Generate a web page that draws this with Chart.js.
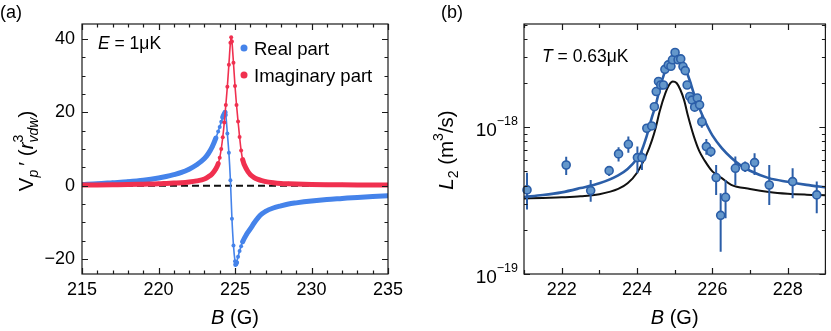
<!DOCTYPE html>
<html>
<head>
<meta charset="utf-8">
<script src="https://cdn.jsdelivr.net/npm/chart.js@4.4.0/dist/chart.umd.min.js"></script>
<style>
  html, body { margin: 0; padding: 0; background: #fff; }
  #wrap { position: relative; width: 831px; height: 331px; }
  #boxA { position: absolute; left: 0; top: 0; width: 415px; height: 331px; }
  #boxB { position: absolute; left: 415px; top: 0; width: 416px; height: 331px; }
</style>
</head>
<body>
<div id="wrap">
  <div id="boxA"><canvas id="chartA"></canvas></div>
  <div id="boxB"><canvas id="chartB"></canvas></div>
</div>
<script>
// ---- panel (a): V_p' vs B ----
const bImag = [215,216,217,218,219,220,220.5,221,221.5,222,222.5,223,223.25,223.5,223.75,223.9,224,224.1,224.2,224.3,224.4,224.5,224.6,224.7,224.75,224.8,224.9,225,225.1,225.2,225.3,225.4,225.5,225.75,226,226.25,226.5,226.75,227,227.5,228,228.5,229,230,231,232,233,234,235];
const vImag = [0.15,0.2,0.25,0.3,0.4,0.5,0.6,0.7,0.8,1.0,1.3,1.8,2.4,3.2,4.6,6.0,7.6,10.0,13.2,17.2,22.0,27.0,33.0,39.0,40.5,39.3,33.5,27.2,22.0,17.5,13.3,9.6,7.1,4.5,3.0,2.2,1.7,1.35,1.1,0.8,0.6,0.5,0.42,0.32,0.26,0.22,0.19,0.17,0.15];

const bReal = [215,216,217,218,219,220,220.5,221,221.5,222,222.5,223,223.25,223.5,223.75,223.9,224,224.1,224.2,224.3,224.35,224.4,224.5,224.6,224.7,224.8,224.9,225,225.05,225.1,225.2,225.3,225.4,225.5,225.75,226,226.25,226.5,226.75,227,227.5,228,228.5,229,230,231,232,233,234,235];
const vReal = [0.3,0.5,0.8,1.1,1.5,2.1,2.5,3.0,3.6,4.5,5.7,7.4,8.7,10.5,13.0,14.8,16.0,17.4,18.7,19.6,20.0,19.3,14.2,9.0,1.5,-9.0,-16.3,-20.6,-21.5,-21.0,-19.4,-17.8,-16.5,-15.3,-13.3,-11.8,-10.2,-8.8,-7.7,-7.0,-6.1,-5.5,-5.0,-4.7,-4.2,-3.8,-3.5,-3.2,-2.95,-2.75];

const bZero = [215, 235];
const vZero = [0, 0];

const aXMajor = [215, 220, 225, 230, 235];
const aYMajor = [-20, 0, 20, 40];

// ---- panel (b): L2 vs B (values in units of 1e-19 m^3/s) ----
const L2_UNIT = 1e-19;
const bMeas = [221.08,222.12,222.77,223.26,223.51,223.77,224.01,224.13,224.26,224.39,224.46,224.51,224.57,224.63,224.70,224.74,224.83,224.90,224.94,225.01,225.09,225.16,225.22,225.28,225.33,225.40,225.46,225.53,225.60,225.66,225.72,225.84,225.96,226.10,226.22,226.35,226.61,226.87,227.12,227.51,228.13,228.77];
const l2Meas = [3.74,5.53,3.70,5.06,6.58,7.65,6.21,6.21,9.84,10.2,13.8,17.5,20.5,19.4,19.4,24.8,26.6,26.0,28.8,32.3,28.8,29.2,25.9,24.3,19.4,16.2,15.3,13.7,15.8,14.2,10.9,7.38,6.82,4.54,2.51,3.33,5.25,5.38,5.74,4.04,4.26,3.46];
const l2Lo = [2.75,4.73,3.11,4.66,5.83,6.71,4.85,5.12,9.3,9.6,13.0,16.6,19.5,18.5,18.5,23.6,25.3,24.8,27.5,30.8,27.5,27.9,24.7,23.2,18.5,15.4,14.5,13.0,15.0,13.1,9.9,6.5,6.3,3.46,1.42,2.40,4.04,4.95,4.73,2.95,3.28,2.59];
const l2Hi = [4.9,6.3,4.37,5.45,7.31,8.63,7.38,6.82,10.4,10.8,14.6,18.4,21.5,20.3,20.3,26.0,27.9,27.2,30.1,33.8,30.1,30.5,27.1,25.4,20.3,17.0,16.1,14.4,16.6,15.3,12.0,8.3,7.4,5.53,3.55,4.37,6.31,5.85,6.65,5.53,5.26,4.26];

const bFit = [221,221.5,222,222.5,223,223.5,223.75,224,224.1,224.25,224.4,224.5,224.6,224.75,224.9,225,225.1,225.25,225.4,225.5,225.6,225.75,225.9,226,226.25,226.5,226.75,227,227.5,228,228.5,229];
const l2Fit = [3.35,3.45,3.6,3.85,4.15,4.7,5.2,6.1,6.7,8.6,11.8,14.3,18.2,24.3,29.6,31.4,30.4,26.2,20.8,17.2,14.6,11.8,9.8,8.8,7.2,6.2,5.5,5.05,4.5,4.25,4.05,3.9];

const bBare = [221,221.5,222,222.5,223,223.5,223.75,224,224.25,224.4,224.5,224.6,224.75,224.85,224.95,225.05,225.15,225.25,225.35,225.5,225.65,225.8,226,226.25,226.5,227,227.5,228,228.5,229];
const l2Bare = [3.27,3.3,3.33,3.38,3.5,3.8,4.15,4.9,6.5,8.2,10.0,12.8,17.0,19.4,20.5,20.0,18.0,15.3,12.0,8.8,6.9,5.9,5.0,4.5,4.05,3.8,3.62,3.52,3.47,3.44];

const bXMajor = [222, 224, 226, 228];
const bYMajor = [1e-19, 1e-18];

const FONT = '"Liberation Sans", Arial, Helvetica, sans-serif';
const BLUE = '#4583ea';
const RED = '#f0304f';
const FIT_BLUE = '#2b5ea8';
const MARK_FILL = '#6497cb';

Chart.defaults.font.family = FONT;
Chart.defaults.color = '#000';

const pts = (xs, ys, k = 1) => xs.map((x, i) => ({ x: x, y: ys[i] * k }));

// thick where the dots merge into a band, thin where they separate
const bandWidth = ctx => {
  const dx = Math.abs(ctx.p1.x - ctx.p0.x);
  const dy = Math.abs(ctx.p1.y - ctx.p0.y);
  return dy > 2.5 * dx ? 1.6 : 5;
};

function drawRich(ctx, parts, x, y, align) {
  let total = 0;
  parts.forEach(p => {
    ctx.font = (p.it ? 'italic ' : '') + p.size + 'px ' + FONT;
    p.w = ctx.measureText(p.t).width;
    total += p.adv === undefined ? p.w : p.adv;
  });
  let cx = align === 'center' ? x - total / 2 : align === 'right' ? x - total : x;
  ctx.textAlign = 'left';
  ctx.textBaseline = 'alphabetic';
  ctx.fillStyle = '#000';
  parts.forEach(p => {
    ctx.font = (p.it ? 'italic ' : '') + p.size + 'px ' + FONT;
    ctx.fillText(p.t, cx, y + (p.dy || 0));
    cx += p.adv === undefined ? p.w : p.adv;
  });
}

function drawFrame(chart, xTicks, yTicks) {
  const { ctx, chartArea: a, scales } = chart;
  ctx.save();
  ctx.strokeStyle = '#1a1a1a';
  ctx.lineWidth = 1.2;
  ctx.strokeRect(a.left, a.top, a.right - a.left, a.bottom - a.top);
  ctx.beginPath();
  xTicks.forEach(([v, len]) => {
    const px = Math.round(scales.x.getPixelForValue(v)) + 0.5;
    ctx.moveTo(px, a.bottom); ctx.lineTo(px, a.bottom - len);
    ctx.moveTo(px, a.top); ctx.lineTo(px, a.top + len);
  });
  yTicks.forEach(([v, len]) => {
    const py = Math.round(scales.y.getPixelForValue(v)) + 0.5;
    ctx.moveTo(a.left, py); ctx.lineTo(a.left + len, py);
    ctx.moveTo(a.right, py); ctx.lineTo(a.right - len, py);
  });
  ctx.stroke();
  ctx.restore();
}

const panelA = {
  id: 'panelA',
  afterDraw(chart) {
    const ctx = chart.ctx;
    const xt = [], yt = [];
    for (let v = 215; v <= 235; v++) xt.push([v, aXMajor.includes(v) ? 6 : 3.5]);
    for (let v = -20; v <= 40; v += 5) yt.push([v, aYMajor.includes(v) ? 6 : 3.5]);
    drawFrame(chart, xt, yt);
    ctx.save();
    drawRich(ctx, [{ t: '(a)', size: 18 }], 0, 18, 'left');
    drawRich(ctx, [{ t: 'E', size: 17.5, it: true }, { t: ' = 1μK', size: 17.5 }], 98, 49, 'left');
    // legend
    [[BLUE, 'Real part', 48], [RED, 'Imaginary part', 75]].forEach(([c, t, y]) => {
      ctx.fillStyle = c;
      ctx.beginPath(); ctx.arc(244, y, 3.5, 0, Math.PI * 2); ctx.fill();
      drawRich(ctx, [{ t: t, size: 18.5 }], 254, y + 7, 'left');
    });
    // x title
    drawRich(ctx, [{ t: 'B', size: 20, it: true }, { t: ' (G)', size: 20 }], 235, 324, 'center');
    // y title
    ctx.translate(33, 151);
    ctx.rotate(-Math.PI / 2);
    drawRich(ctx, [
      { t: 'V', size: 20.5 },
      { t: 'p', size: 14, it: true, dy: 5 },
      { t: '\u2009′ (', size: 20.5 },
      { t: 'r', size: 20.5, it: true },
      { t: '3', size: 14, dy: -10, adv: 0 },
      { t: 'vdw', size: 14, it: true, dy: 5 },
      { t: ')', size: 20.5 }
    ], 0, 0, 'center');
    ctx.restore();
  }
};

const panelB = {
  id: 'panelB',
  beforeDatasetDraw(chart, args) {
    if (args.index !== 0) return;
    const { ctx, scales: { x, y } } = chart;
    ctx.save();
    ctx.strokeStyle = FIT_BLUE;
    ctx.lineWidth = 2;
    ctx.beginPath();
    bMeas.forEach((b, i) => {
      const px = x.getPixelForValue(b);
      ctx.moveTo(px, y.getPixelForValue(l2Lo[i] * L2_UNIT));
      ctx.lineTo(px, y.getPixelForValue(l2Hi[i] * L2_UNIT));
    });
    ctx.stroke();
    ctx.restore();
  },
  afterDraw(chart) {
    const ctx = chart.ctx;
    const xt = [], yt = [];
    for (let v = 221; v <= 229; v++) xt.push([v, bXMajor.includes(v) ? 6 : 4]);
    for (let d = 1e-19; d <= 1e-18; d *= 10) {
      for (let m = 1; m <= 9; m++) {
        const v = m * d;
        if (v <= chart.scales.y.max) yt.push([v, m === 1 ? 6 : 3.5]);
      }
    }
    drawFrame(chart, xt, yt);
    ctx.save();
    drawRich(ctx, [{ t: '(b)', size: 18 }], 26, 18, 'left');
    drawRich(ctx, [{ t: 'T', size: 17.5, it: true }, { t: ' = 0.63μK', size: 17.5 }], 127, 62, 'left');
    // log tick labels
    const ys = chart.scales.y;
    bYMajor.forEach(v => {
      const py = ys.getPixelForValue(v);
      const exp = Math.round(Math.log10(v));
      drawRich(ctx, [{ t: '10', size: 19 }, { t: '−' + Math.abs(exp), size: 12.5, dy: -11 }],
        chart.chartArea.left - 6, py + 9, 'right');
    });
    drawRich(ctx, [{ t: 'B', size: 20, it: true }, { t: ' (G)', size: 20 }],
      (chart.chartArea.left + chart.chartArea.right) / 2, 324, 'center');
    ctx.translate(38, 150);
    ctx.rotate(-Math.PI / 2);
    drawRich(ctx, [
      { t: 'L', size: 20.5, it: true },
      { t: '2', size: 14, dy: 5 },
      { t: ' (m', size: 20.5 },
      { t: '3', size: 14, dy: -10 },
      { t: '/s)', size: 20.5 }
    ], 0, 0, 'center');
    ctx.restore();
  }
};

new Chart(document.getElementById('chartA'), {
  type: 'line',
  data: {
    datasets: [
      {
        label: 'Imaginary part',
        data: pts(bImag, vImag),
        borderColor: RED, backgroundColor: RED,
        borderWidth: 1.6, borderCapStyle: 'round', borderJoinStyle: 'round',
        pointRadius: 2, pointBorderWidth: 0, pointBackgroundColor: RED,
        cubicInterpolationMode: 'monotone',
        segment: { borderWidth: bandWidth },
        order: 1
      },
      {
        label: 'Real part',
        data: pts(bReal, vReal),
        borderColor: BLUE, backgroundColor: BLUE,
        borderWidth: 1.6, borderCapStyle: 'round', borderJoinStyle: 'round',
        pointRadius: 2, pointBorderWidth: 0, pointBackgroundColor: BLUE,
        cubicInterpolationMode: 'monotone',
        segment: { borderWidth: bandWidth },
        order: 2
      },
      {
        label: 'zero',
        data: pts(bZero, vZero),
        borderColor: '#111', borderWidth: 2, borderDash: [7, 4],
        pointRadius: 0,
        order: 3
      }
    ]
  },
  options: {
    responsive: true, maintainAspectRatio: false, animation: false,
    layout: { padding: { top: 24, right: 27, left: 0, bottom: 0 } },
    plugins: { legend: { display: false }, tooltip: { enabled: false } },
    scales: {
      x: {
        type: 'linear', min: 215, max: 235,
        grid: { display: false, drawTicks: false }, border: { display: false },
        ticks: { stepSize: 5, padding: 5, autoSkip: false, maxRotation: 0, font: { size: 18 }, color: '#000' },
        afterFit: s => { s.height = 57; }
      },
      y: {
        type: 'linear', min: -24.1, max: 44.1,
        grid: { display: false, drawTicks: false }, border: { display: false },
        ticks: {
          stepSize: 20, includeBounds: false, padding: 7, font: { size: 18 }, color: '#000',
          callback: v => v < 0 ? '−' + Math.abs(v) : String(v)
        },
        afterFit: s => { s.width = 82; }
      }
    }
  },
  plugins: [panelA]
});

new Chart(document.getElementById('chartB'), {
  type: 'line',
  data: {
    datasets: [
      {
        label: 'measured',
        data: pts(bMeas, l2Meas, L2_UNIT),
        showLine: false,
        pointRadius: 4, pointBorderWidth: 1.6,
        pointBackgroundColor: MARK_FILL, pointBorderColor: FIT_BLUE,
        clip: false,
        order: 1
      },
      {
        label: 'fit',
        data: pts(bFit, l2Fit, L2_UNIT),
        borderColor: FIT_BLUE, borderWidth: 2.6,
        pointRadius: 0, cubicInterpolationMode: 'monotone',
        order: 2
      },
      {
        label: 'bare',
        data: pts(bBare, l2Bare, L2_UNIT),
        borderColor: '#111', borderWidth: 2,
        pointRadius: 0, cubicInterpolationMode: 'monotone',
        order: 3
      }
    ]
  },
  options: {
    responsive: true, maintainAspectRatio: false, animation: false,
    layout: { padding: { top: 24, right: 1, left: 0, bottom: 0 } },
    plugins: { legend: { display: false }, tooltip: { enabled: false } },
    scales: {
      x: {
        type: 'linear', min: 221, max: 229,
        grid: { display: false, drawTicks: false }, border: { display: false },
        ticks: {
          stepSize: 1, padding: 5, autoSkip: false, maxRotation: 0, font: { size: 18 }, color: '#000',
          callback: v => bXMajor.includes(v) ? String(v) : ''
        },
        afterFit: s => { s.height = 57; }
      },
      y: {
        type: 'logarithmic', min: 1e-19, max: 5.05e-18,
        grid: { display: false, drawTicks: false }, border: { display: false },
        ticks: { display: false },
        afterFit: s => { s.width = 109; }
      }
    }
  },
  plugins: [panelB]
});
</script>
</body>
</html>
